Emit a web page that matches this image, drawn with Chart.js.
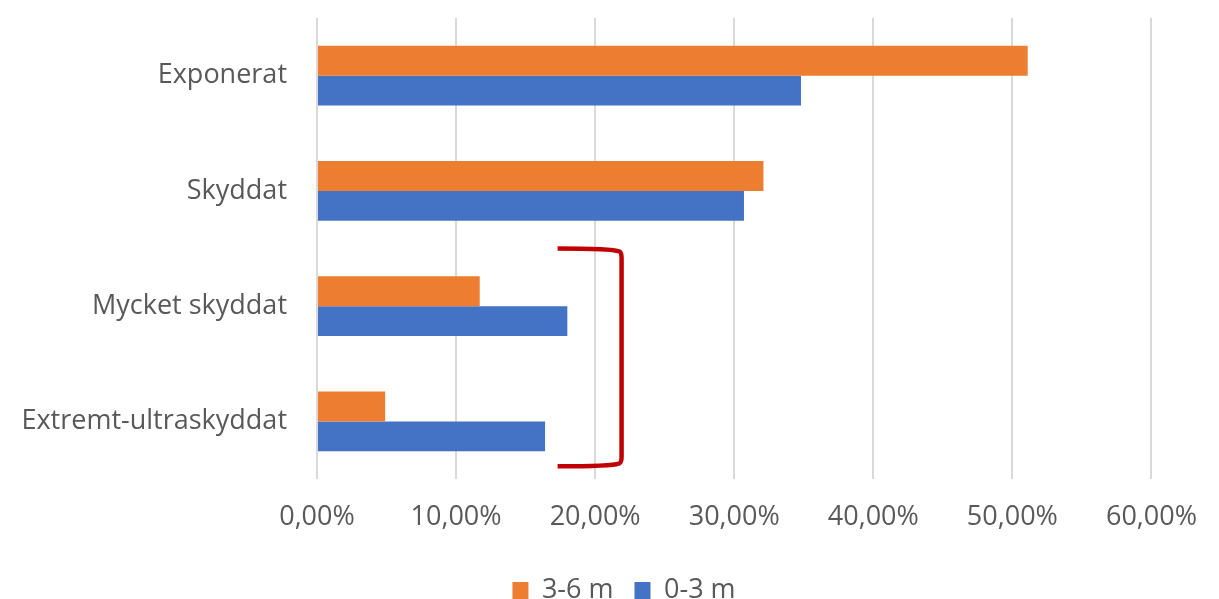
<!DOCTYPE html>
<html>
<head>
<meta charset="utf-8">
<script src="https://cdn.jsdelivr.net/npm/chart.js@4/dist/chart.umd.min.js"></script>
<style>
    html, body { margin: 0; padding: 0; background: #fff; }
    #wrap { width: 1219px; height: 599px; }
</style>
</head>
<body>
<div id="wrap"><canvas id="chart"></canvas></div>
<script>
const categories = ["Exponerat", "Skyddat", "Mycket skyddat", "Extremt-ultraskyddat"];
const deep36 = [51.1, 32.1, 11.7, 4.9];   // 3-6 m
const shallow03 = [34.8, 30.7, 18.0, 16.4]; // 0-3 m
const xTicks = [0, 10, 20, 30, 40, 50, 60];

const textColor = "#595959";
const fontFamily = "'Open Sans', 'DejaVu Sans', sans-serif";

// red bracket drawn beside the two most sheltered groups
const bracketPlugin = {
    id: "bracket",
    afterDatasetsDraw(chart) {
        const { ctx, scales } = chart;
        const x0 = scales.x.getPixelForValue(17.3);
        const x1 = scales.x.getPixelForValue(21.9);
        const yTop = scales.y.getPixelForValue(1.5);
        const yBot = scales.y.getPixelForValue(3.39);
        ctx.save();
        ctx.strokeStyle = "#C00000";
        ctx.lineWidth = 4.5;
        ctx.lineJoin = "round";
        ctx.beginPath();
        ctx.moveTo(x0, yTop);
        ctx.quadraticCurveTo(x1 - 10, yTop, x1 - 2, yTop + 3);
        ctx.quadraticCurveTo(x1, yTop + 4, x1, yTop + 10);
        ctx.lineTo(x1, yBot - 10);
        ctx.quadraticCurveTo(x1, yBot - 4, x1 - 2, yBot - 3);
        ctx.quadraticCurveTo(x1 - 10, yBot, x0, yBot);
        ctx.stroke();
        ctx.restore();
    }
};

// nudge the legend a bit right and down, like the original
const legendShift = {
    id: "legendShift",
    afterLayout(chart) {
        const lg = chart.legend;
        lg.left += 48;
        lg.right += 48;
        lg.top += 15;
        lg.bottom += 15;
    }
};

new Chart(document.getElementById("chart"), {
    type: "bar",
    data: {
        labels: categories,
        datasets: [
            {
                label: "3-6 m",
                data: deep36,
                backgroundColor: "#ED7D31",
                barPercentage: 1,
                categoryPercentage: 0.52,
            },
            {
                label: "0-3 m",
                data: shallow03,
                backgroundColor: "#4472C4",
                barPercentage: 1,
                categoryPercentage: 0.52,
            },
        ],
    },
    options: {
        indexAxis: "y",
        responsive: true,
        maintainAspectRatio: false,
        animation: false,
        layout: { padding: { top: 18, right: 67, left: 0, bottom: 0 } },
        plugins: {
            tooltip: { enabled: false },
            legend: {
                position: "bottom",
                labels: {
                    color: textColor,
                    font: { family: fontFamily, size: 27 },
                    boxWidth: 16,
                    boxHeight: 17,
                    padding: 21,
                },
            },
        },
        scales: {
            x: {
                min: 0,
                max: 60,
                afterBuildTicks(scale) {
                    scale.ticks = xTicks.map(v => ({ value: v }));
                },
                ticks: {
                    color: textColor,
                    font: { family: fontFamily, size: 27 },
                    padding: 22,
                    maxRotation: 0,
                    callback: v => v.toFixed(2).replace(".", ",") + "%",
                },
                grid: { color: "#D9D9D9", lineWidth: 2, drawTicks: false },
                border: { display: false },
                afterFit(scale) { scale.height = 62; },
            },
            y: {
                ticks: {
                    color: textColor,
                    font: { family: fontFamily, size: 27 },
                    padding: 30,
                },
                grid: { display: false, drawTicks: false },
                border: { display: false },
                afterFit(scale) {
                    scale.width = 317;
                    scale.paddingTop = 0;
                    scale.paddingBottom = 0;
                },
            },
        },
    },
    plugins: [bracketPlugin, legendShift],
});
</script>
</body>
</html>
